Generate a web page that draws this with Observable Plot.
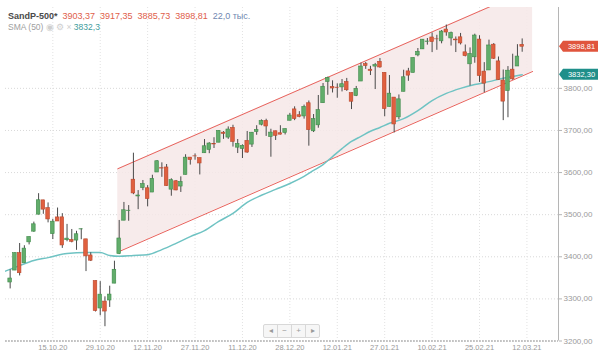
<!DOCTYPE html>
<html><head><meta charset="utf-8">
<script src="https://cdn.jsdelivr.net/npm/d3@7"></script>
<script src="https://cdn.jsdelivr.net/npm/@observablehq/plot@0.6"></script>
<style>
body{margin:0;background:#fff;}
#wrap{position:relative;width:600px;height:356px;font-family:"Liberation Sans",Arial,sans-serif;overflow:hidden;}
#chart svg{display:block;}
#legend{position:absolute;left:8px;top:11px;font-size:9px;line-height:10px;white-space:nowrap;}
#legend .l2{font-size:8.5px;color:#a0a0a0;margin-top:1px;}
#nav{position:absolute;left:263px;top:324px;display:flex;border:1px solid #d8d8d8;border-radius:2px;background:#f6f6f6;}
#nav span{display:block;width:13px;height:12px;line-height:12px;text-align:center;font-size:8px;color:#9a9a9a;border-left:1px solid #d8d8d8;}
#nav span:first-child{border-left:none;}
</style></head>
<body><div id="wrap"><div id="chart"></div><div id="legend"></div><div id="nav"><span>◂</span><span>−</span><span>+</span><span>▸</span></div></div>
<script>
// ---- data ----
const dates = ["02.10.20","05.10.20","06.10.20","07.10.20","08.10.20","09.10.20","12.10.20","13.10.20","14.10.20","15.10.20","16.10.20","19.10.20","20.10.20","21.10.20","22.10.20","23.10.20","26.10.20","27.10.20","28.10.20","29.10.20","30.10.20",
"02.11.20","03.11.20","04.11.20","05.11.20","06.11.20","09.11.20","10.11.20","11.11.20","12.11.20","13.11.20","16.11.20","17.11.20","18.11.20","19.11.20","20.11.20","23.11.20","24.11.20","25.11.20","27.11.20","30.11.20",
"01.12.20","02.12.20","03.12.20","04.12.20","07.12.20","08.12.20","09.12.20","10.12.20","11.12.20","14.12.20","15.12.20","16.12.20","17.12.20","18.12.20","21.12.20","22.12.20","23.12.20","24.12.20","28.12.20","29.12.20","30.12.20","31.12.20",
"04.01.21","05.01.21","06.01.21","07.01.21","08.01.21","11.01.21","12.01.21","13.01.21","14.01.21","15.01.21","19.01.21","20.01.21","21.01.21","22.01.21","25.01.21","26.01.21","27.01.21","28.01.21","29.01.21",
"01.02.21","02.02.21","03.02.21","04.02.21","05.02.21","08.02.21","09.02.21","10.02.21","11.02.21","12.02.21","16.02.21","17.02.21","18.02.21","19.02.21","22.02.21","23.02.21","24.02.21","25.02.21","26.02.21",
"01.03.21","02.03.21","03.03.21","04.03.21","05.03.21","08.03.21","09.03.21","10.03.21"];
const open = [3338.94,3367.27,3408.74,3384.56,3434.28,3459.67,3500.02,3534.01,3515.47,3453.72,3493.50,3493.66,3439.38,3439.91,3438.50,3464.90,3441.42,3403.15,3342.48,3277.17,3293.59,
3296.20,3336.25,3406.46,3485.74,3508.34,3583.04,3543.26,3563.22,3562.67,3552.57,3600.16,3610.31,3612.09,3559.41,3579.31,3566.82,3594.52,3635.50,3638.55,3634.18,
3645.87,3653.78,3668.28,3670.94,3694.73,3683.05,3705.98,3659.13,3656.08,3675.27,3666.41,3696.25,3713.65,3722.39,3684.28,3698.08,3693.42,3694.03,3723.03,3750.01,3736.19,3733.27,
3764.61,3698.02,3712.20,3764.71,3815.05,3803.14,3801.62,3802.23,3814.98,3788.73,3781.88,3816.22,3857.46,3844.24,3851.68,3862.96,3836.83,3755.75,3778.05,
3731.17,3791.84,3840.27,3836.66,3878.30,3892.59,3910.49,3920.78,3916.40,3911.65,3939.61,3918.50,3915.86,3921.16,3885.55,3857.07,3873.71,3915.80,3839.66,
3842.51,3903.64,3863.99,3818.53,3793.58,3844.39,3851.93,3903.37];
const high = [3369.10,3409.57,3431.56,3426.26,3447.28,3482.34,3549.85,3534.01,3527.94,3489.08,3515.76,3502.42,3476.93,3464.86,3460.53,3466.46,3441.42,3409.51,3342.48,3341.05,3304.93,
3330.14,3389.49,3486.25,3529.05,3521.58,3645.99,3557.22,3581.16,3569.02,3593.66,3628.51,3623.11,3619.09,3585.22,3581.23,3589.81,3642.31,3635.50,3644.31,3634.18,
3678.45,3670.96,3682.73,3699.20,3697.41,3708.45,3712.39,3678.49,3665.91,3697.61,3695.29,3711.27,3725.12,3726.70,3702.90,3698.26,3711.24,3703.82,3740.51,3756.12,3744.63,3760.20,
3769.99,3737.83,3783.04,3811.55,3826.69,3817.86,3810.78,3820.96,3823.60,3788.73,3804.53,3859.75,3861.45,3852.31,3859.23,3870.90,3836.83,3830.50,3778.05,
3784.32,3843.09,3847.51,3872.42,3894.56,3915.77,3918.35,3931.50,3925.99,3937.23,3950.43,3933.61,3921.98,3930.41,3902.92,3895.98,3928.65,3925.02,3861.08,
3914.50,3906.41,3874.47,3843.67,3851.69,3881.06,3903.76,3917.35];
const low = [3323.69,3367.27,3354.54,3384.56,3428.15,3458.07,3499.61,3500.86,3480.55,3440.89,3483.81,3419.93,3435.65,3433.06,3415.34,3440.45,3364.86,3388.71,3268.89,3259.82,3233.94,
3279.74,3336.25,3405.17,3485.74,3484.34,3547.48,3511.91,3557.00,3518.58,3552.57,3600.16,3588.68,3567.33,3543.84,3556.85,3552.77,3594.52,3617.76,3629.33,3594.39,
3645.87,3644.84,3657.17,3670.94,3678.88,3678.83,3660.54,3645.18,3633.40,3645.84,3659.62,3688.57,3710.87,3685.84,3636.48,3676.16,3689.28,3689.32,3723.03,3723.31,3730.21,3726.88,
3662.71,3695.07,3705.34,3764.71,3783.60,3789.02,3776.51,3791.50,3792.86,3749.62,3780.37,3816.22,3845.05,3830.41,3797.16,3847.78,3732.48,3755.75,3694.12,
3725.62,3791.84,3816.68,3836.66,3874.93,3892.59,3902.64,3884.94,3890.39,3905.78,3923.85,3900.43,3885.03,3903.07,3874.71,3805.59,3859.60,3814.04,3789.54,
3842.51,3868.57,3818.86,3723.34,3730.19,3819.25,3851.93,3885.73];
const close = [3348.42,3408.63,3360.97,3419.44,3446.83,3477.13,3534.22,3511.93,3488.67,3483.34,3483.81,3426.92,3443.12,3435.56,3453.49,3465.39,3400.97,3390.68,3271.03,3310.11,3269.96,
3310.24,3369.16,3443.44,3510.45,3509.44,3550.50,3545.53,3572.66,3537.01,3585.15,3626.91,3609.53,3567.79,3581.87,3557.54,3577.59,3635.41,3629.65,3638.35,3621.63,
3662.45,3669.01,3666.72,3699.12,3691.96,3702.25,3672.82,3668.10,3663.46,3647.49,3694.62,3701.17,3722.48,3709.41,3694.92,3687.26,3690.01,3703.06,3735.36,3727.04,3732.04,3756.07,
3700.65,3726.86,3748.14,3803.79,3824.68,3799.61,3801.19,3809.84,3795.54,3768.25,3798.91,3851.85,3853.07,3841.47,3855.36,3849.62,3750.77,3787.38,3714.24,
3773.86,3826.31,3830.17,3871.74,3886.83,3915.59,3911.23,3909.88,3916.38,3934.83,3932.59,3931.33,3913.97,3906.71,3876.50,3881.37,3925.43,3829.34,3811.15,
3901.82,3870.29,3819.72,3768.47,3841.94,3821.35,3875.44,3898.81];

// SMA(50): bar index -> value
const smaIdx = [-1,2,5,8,12,16,19,21,23,26,29,32,35,38,41,44,47,50,53,56,59,62,64,66,68,70,72,74,76,78,80,83,86,89,92,95,98,101,104,106,108];
const smaVal = [3366,3379,3391,3398,3408,3410,3410,3403,3401,3403,3405,3417,3432,3448,3462,3484,3503,3529,3546,3560,3574,3591,3605,3619,3638,3657,3674,3686,3698,3707,3717,3728,3747,3771,3788,3800,3809,3816,3824,3828,3832.3];

// trend channel (start/end bar index, lower and upper bounds)
const channelIdx = [22.7, 110.2];
const channelLow = [3411, 3840];
const channelHigh = [3609, 4038];

const yTicks = [3200,3300,3400,3500,3600,3700,3800];
const xTickLabels = ["15.10.20","29.10.20","12.11.20","27.11.20","11.12.20","28.12.20","12.01.21","27.01.21","10.02.21","25.02.21","12.03.21"];
const volumeText = "22,0 тыс.";

// ---- build ----
const candles = dates.map((d,i)=>({i, date:d, o:open[i], h:high[i], l:low[i], c:close[i]}));
const sma = smaIdx.map((i,k)=>({i, v:smaVal[k]}));
const channel = channelIdx.map((i,k)=>({i, lo:channelLow[k], hi:channelHigh[k]}));
const xTickPos = xTickLabels.map((_,k)=>9 + 10*k);
const labelMap = new Map(xTickPos.map((p,k)=>[p, xTickLabels[k]]));
const fmt2 = v => d3.format(".2f")(v).replace(".", ",");
const up = d => d.c >= d.o;
const GF = "#62ad6b", GS = "#3e8a4a", RF = "#e0603f", RS = "#b9462c";
const xMax = 115.66;

const chart = Plot.plot({
  width: 600, height: 356,
  marginLeft: 5, marginRight: 42, marginTop: 7, marginBottom: 15.5,
  x: {domain: [-0.98, xMax], axis: null, label: null},
  y: {domain: [3200, 3992], axis: null, label: null},
  style: {background: "transparent", fontFamily: "'Liberation Sans', Arial, sans-serif"},
  marks: [
    Plot.gridY(yTicks, {stroke: "#d9d9d9", strokeOpacity: 1, strokeDasharray: "1,2"}),
    Plot.gridX(xTickPos, {stroke: "#e2e2e2", strokeOpacity: 1, strokeDasharray: "1,2"}),
    Plot.areaY(channel, {x: "i", y1: "lo", y2: "hi", fill: "#f6e7e7", fillOpacity: 0.85, clip: true}),
    Plot.line(channel, {x: "i", y: "lo", stroke: "#e8625c", strokeWidth: 1, clip: true}),
    Plot.line(channel, {x: "i", y: "hi", stroke: "#e8625c", strokeWidth: 1, clip: true}),
    Plot.line(sma, {x: "i", y: "v", stroke: "#6fc3c3", strokeWidth: 1.5, curve: "monotone-x", clip: true}),
    Plot.ruleX(candles, {x: "i", y1: "l", y2: "h", stroke: "#4a4a4a", strokeWidth: 1}),
    Plot.rect(candles, {x1: d => d.i - 0.38, x2: d => d.i + 0.38, y1: "o", y2: "c",
      fill: d => up(d) ? GF : RF, stroke: d => up(d) ? GS : RS, strokeWidth: 0.6}),
    Plot.ruleY([3200], {stroke: "#9a9a9a", strokeDasharray: "2,1"}),
    Plot.ruleX([xMax], {stroke: "#b5b5b5"}),
    Plot.axisY(yTicks, {anchor: "right", label: null, tickSize: 3, tickPadding: 2, fontSize: 8, fill: "#9a9a9a", stroke: "#b5b5b5", tickFormat: fmt2}),
    Plot.axisX(xTickPos, {anchor: "bottom", label: null, tickSize: 0, tickPadding: 4, fontSize: 7.5, fill: "#999", tickFormat: d => labelMap.get(d)})
  ]
});
document.getElementById("chart").appendChild(chart);

// price boxes at right axis, positioned through the plot's own scales
const sy = chart.scale("y"), sx = chart.scale("x");
const svg = d3.select(chart);
const ax = sx.apply(xMax);
const last = candles[candles.length - 1];
const boxes = [
  {v: last.c, text: fmt2(last.c), fill: "#e0553d"},
  {v: smaVal[smaVal.length - 1], text: fmt2(smaVal[smaVal.length - 1]), fill: "#1f8f8a"}
];
for (const b of boxes) {
  const y = sy.apply(b.v);
  const h = 11, x0 = ax + 1, x1 = ax + 5, x2 = 598;
  svg.append("path")
    .attr("d", `M${x0},${y}L${x1},${y - h/2}L${x2},${y - h/2}L${x2},${y + h/2}L${x1},${y + h/2}Z`)
    .attr("fill", b.fill);
  svg.append("text").attr("x", (x1 + x2)/2 + 1).attr("y", y).attr("dy", "0.35em")
    .attr("text-anchor", "middle").attr("fill", "#fff").attr("font-size", 7.5)
    .attr("font-family", "'Liberation Sans', Arial, sans-serif").text(b.text);
}

// legend
const lg = document.getElementById("legend");
lg.innerHTML =
  `<div><b style="color:#4a4a4a">SandP-500*</b>&nbsp; <span style="color:#e0604a">${fmt2(last.o)}&nbsp; ${fmt2(last.h)}&nbsp; ${fmt2(last.l)}&nbsp; ${fmt2(last.c)}</span>&nbsp; <span style="color:#6f88b0">${volumeText}</span></div>` +
  `<div class="l2">SMA (50) <span style="color:#cfcfcf">◉ ⚙ ×</span> <span style="color:#3d9c9c">${d3.format(".1f")(smaVal[smaVal.length-1]).replace(".", ",")}</span></div>`;
</script>
</body></html>
